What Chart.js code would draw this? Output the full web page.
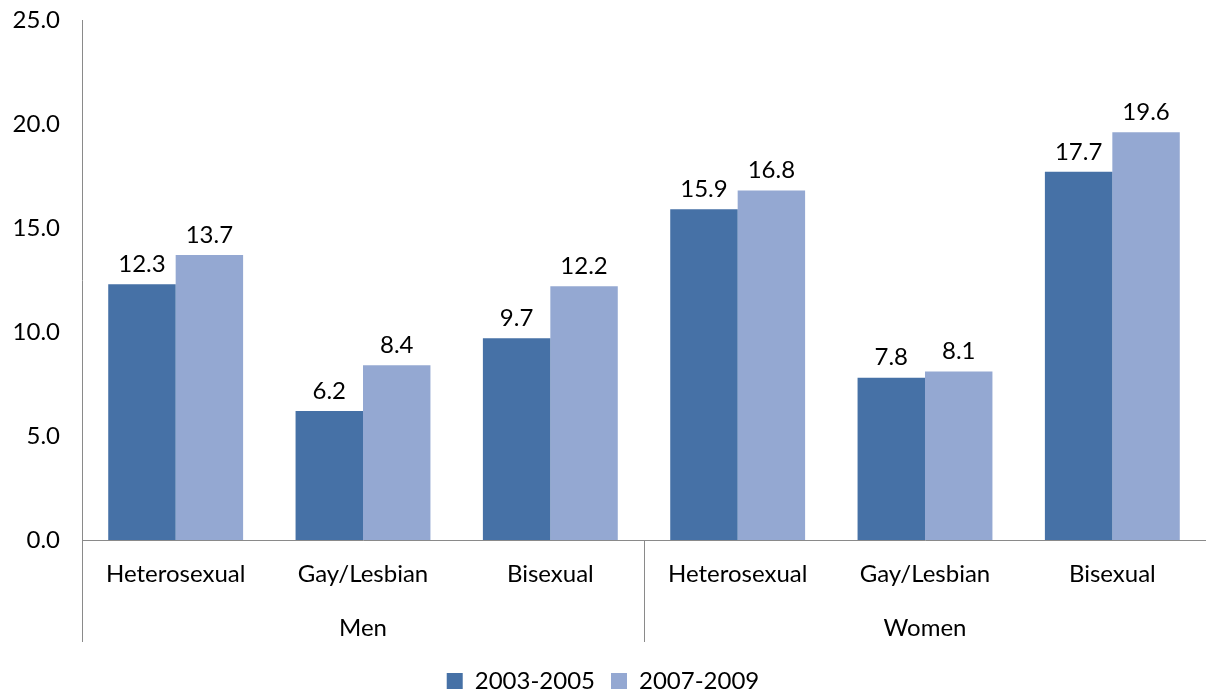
<!DOCTYPE html>
<html>
<head>
<meta charset="utf-8">
<script src="https://cdn.jsdelivr.net/npm/chart.js@4"></script>
<style>
  html, body { margin: 0; padding: 0; background: #fff; }
  #wrap { width: 1206px; height: 694px; }
</style>
</head>
<body>
<div id="wrap"><canvas id="myChart" width="1206" height="694"></canvas></div>
<script>
// data
const categories = ['Heterosexual', 'Gay/Lesbian', 'Bisexual', 'Heterosexual', 'Gay/Lesbian', 'Bisexual'];
const groups = ['Men', 'Women'];
const groupSize = 3;
const series1 = [12.3, 6.2, 9.7, 15.9, 7.8, 17.7];
const series2 = [13.7, 8.4, 12.2, 16.8, 8.1, 19.6];
const seriesNames = ['2003-2005', '2007-2009'];
const yTicks = [0, 5, 10, 15, 20, 25];

const FONT = 'Lato, "DejaVu Sans", sans-serif';
const axisColor = '#8a8a8a';

// value labels, group labels and the separator lines below the axis
const extras = {
    id: 'extras',
    afterDraw(chart) {
        const ctx = chart.ctx;
        const x = chart.scales.x;
        const area = chart.chartArea;
        ctx.save();

        // value labels above each bar
        ctx.fillStyle = '#000';
        ctx.font = '24px ' + FONT;
        ctx.textAlign = 'center';
        ctx.textBaseline = 'bottom';
        chart.data.datasets.forEach((ds, i) => {
            chart.getDatasetMeta(i).data.forEach((bar, j) => {
                ctx.fillText(ds.data[j].toFixed(1), bar.x, bar.y - 8);
            });
        });

        // separators between groups
        ctx.strokeStyle = axisColor;
        ctx.lineWidth = 1;
        const lineEnd = area.bottom + 102;
        const seps = [area.left];
        for (let g = 1; g < groups.length; g++) {
            const i = g * groupSize;
            seps.push((x.getPixelForValue(i - 1) + x.getPixelForValue(i)) / 2);
        }
        seps.forEach(px => {
            ctx.beginPath();
            ctx.moveTo(Math.round(px) + 0.5, area.bottom);
            ctx.lineTo(Math.round(px) + 0.5, lineEnd);
            ctx.stroke();
        });

        // group labels
        ctx.textBaseline = 'middle';
        groups.forEach((g, k) => {
            const first = x.getPixelForValue(k * groupSize);
            const last = x.getPixelForValue(k * groupSize + groupSize - 1);
            ctx.fillText(g, (first + last) / 2, area.bottom + 88);
        });
        ctx.restore();
    }
};

const ctx = document.getElementById('myChart').getContext('2d');

const myChart = new Chart(ctx, {
    type: 'bar',
    data: {
        labels: categories,
        datasets: [{
            label: seriesNames[0],
            data: series1,
            backgroundColor: '#4671a6'
        }, {
            label: seriesNames[1],
            data: series2,
            backgroundColor: '#94a8d2'
        }]
    },
    plugins: [extras],
    options: {
        responsive: false,
        animation: false,
        layout: { padding: { top: 20, right: 0, left: 0, bottom: -9 } },
        datasets: {
            bar: { categoryPercentage: 0.72, barPercentage: 1.0 }
        },
        scales: {
            x: {
                grid: { display: false, drawTicks: false },
                border: { color: axisColor, width: 1 },
                ticks: { color: '#000', font: { family: FONT, size: 24 }, padding: 20, maxRotation: 0, autoSkip: false },
                afterFit(scale) { scale.height = 113; scale.paddingLeft = 0; scale.paddingRight = 0; }
            },
            y: {
                min: 0,
                max: 25,
                grid: { display: false, drawTicks: false },
                border: { color: axisColor, width: 1 },
                afterBuildTicks(scale) { scale.ticks = yTicks.map(v => ({ value: v })); },
                ticks: {
                    color: '#000',
                    font: { family: FONT, size: 24 },
                    padding: 22,
                    callback: function (value) { return Number(value).toFixed(1); }
                },
                afterFit(scale) { scale.width = 82; scale.paddingTop = 0; scale.paddingBottom = 0; }
            }
        },
        plugins: {
            legend: {
                position: 'bottom',
                labels: {
                    color: '#000',
                    font: { family: FONT, size: 24 },
                    boxWidth: 16,
                    boxHeight: 16,
                    padding: 16
                }
            },
            tooltip: { enabled: false }
        }
    }
});
</script>
</body>
</html>
